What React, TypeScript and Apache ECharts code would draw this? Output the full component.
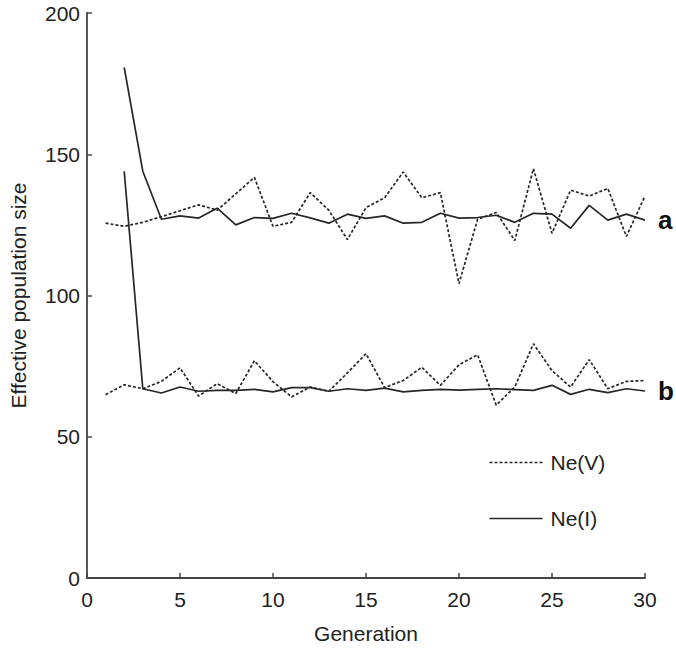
import React, { useEffect, useRef } from "react";
import * as echarts from "echarts";

const generations = [1, 2, 3, 4, 5, 6, 7, 8, 9, 10, 11, 12, 13, 14, 15, 16, 17, 18, 19, 20, 21, 22, 23, 24, 25, 26, 27, 28, 29, 30];

// Upper group (a)
const neV_a = [125.6, 124.5, 125.9, 127.9, 130, 132.1, 130.2, 136, 141.8, 124.5, 125.9, 136.4, 130.2, 119.8, 131.1, 134.6, 143.7, 134.6, 136.4, 104.2, 127, 129.4, 119.5, 144.9, 122, 137.3, 135.2, 137.9, 120.9, 135.2];
const neI_a = [null, 180.7, 144, 127, 128.2, 127.4, 130.9, 125, 127.6, 127.3, 129.1, 127.5, 125.6, 128.8, 127.3, 128.2, 125.6, 125.9, 129.1, 127.4, 127.6, 128.4, 125.9, 129.1, 128.8, 123.8, 131.9, 126.7, 128.8, 126.7];

// Lower group (b)
const neV_b = [64.9, 68.4, 67, 69.6, 74.4, 64.4, 68.8, 65.3, 76.9, 69.5, 64.1, 67.6, 66.1, 72.6, 79.4, 67.4, 69.9, 74.6, 68.2, 75.5, 79, 61.2, 67.6, 82.9, 73.4, 67.6, 77.3, 67, 69.6, 69.9];
const neI_b = [null, 144, 67, 65.5, 67.6, 66.1, 66.4, 66.4, 66.8, 65.9, 67.4, 67.4, 66.1, 67, 66.4, 67.2, 65.9, 66.4, 66.8, 66.5, 66.8, 67, 66.7, 66.4, 68.2, 65, 66.8, 65.6, 67, 66.2];

const xTicks = [0, 5, 10, 15, 20, 25, 30];
const yTicks = [0, 50, 100, 150, 200];
const legendNames = ["Ne(V)", "Ne(I)"];

const pairs = (vals: (number | null)[]) =>
  generations.map((g, i) => [g, vals[i]]).filter((p) => p[1] !== null);

export default function App() {
  const ref = useRef<HTMLDivElement>(null);
  useEffect(() => {
    document.body.style.margin = "0";
    if (!ref.current) return;
    const chart = echarts.init(ref.current, undefined, { renderer: "svg" });
    const font = "Liberation Sans";
    const fs = 21;
    const lineColor = "#262626";
    const dash = [3, 2];
    const mk = (name: string, data: any[], dashed: boolean, endText?: string) => ({
      type: "line",
      name,
      data,
      symbol: "none",
      showSymbol: false,
      lineStyle: { color: lineColor, width: 1.7, type: dashed ? dash : "solid" },
      itemStyle: { color: lineColor },
      endLabel: endText
        ? {
            show: true,
            formatter: endText,
            fontFamily: font,
            fontSize: 26,
            fontWeight: "bold",
            color: "#111",
            distance: 13,
          }
        : { show: false },
      z: dashed ? 2 : 3,
    });
    const legendGraphic = legendNames.map((nm, i) => ({
      type: "group",
      left: 487,
      top: 452 + i * 56,
      children: [
        {
          type: "line",
          shape: { x1: 0, y1: 11, x2: 53, y2: 11 },
          style: { stroke: lineColor, lineWidth: 1.7, lineDash: i === 0 ? dash : null },
        },
        {
          type: "text",
          x: 61,
          y: 11,
          style: {
            text: nm,
            fontFamily: font,
            fontSize: fs,
            fill: "#222",
            verticalAlign: "middle",
          },
        },
      ],
    }));
    chart.setOption({
      animation: false,
      backgroundColor: "#fff",
      grid: { left: 84, right: 31, top: 13, bottom: 64, containLabel: false },
      graphic: legendGraphic,
      xAxis: {
        type: "value",
        min: 0,
        max: 30,
        interval: 5,
        name: "Generation",
        nameLocation: "middle",
        nameGap: 45,
        nameTextStyle: { fontFamily: font, fontSize: fs, color: "#222" },
        axisLine: { show: true, lineStyle: { color: "#444", width: 1.8 } },
        axisTick: { show: true, inside: true, length: 5, lineStyle: { color: "#444", width: 1.5 } },
        axisLabel: {
          fontFamily: font,
          fontSize: fs,
          color: "#222",
          margin: 11,
          customValues: xTicks,
        },
        splitLine: { show: false },
      },
      yAxis: {
        type: "value",
        min: 0,
        max: 200,
        interval: 50,
        name: "Effective population size",
        nameLocation: "middle",
        nameGap: 58,
        nameTextStyle: { fontFamily: font, fontSize: fs, color: "#222" },
        axisLine: { show: true, lineStyle: { color: "#444", width: 1.8 } },
        axisTick: { show: true, inside: true, length: 5, lineStyle: { color: "#444", width: 1.5 } },
        axisLabel: {
          fontFamily: font,
          fontSize: fs,
          color: "#222",
          margin: 7,
          customValues: yTicks,
        },
        splitLine: { show: false },
      },
      series: [
        mk("Ne(V)", pairs(neV_a), true),
        mk("Ne(I)", pairs(neI_a), false, "a"),
        mk("Ne(V)", pairs(neV_b), true),
        mk("Ne(I)", pairs(neI_b), false, "b"),
      ],
    });
    return () => chart.dispose();
  }, []);
  return <div ref={ref} style={{ width: 676, height: 649 }} />;
}
